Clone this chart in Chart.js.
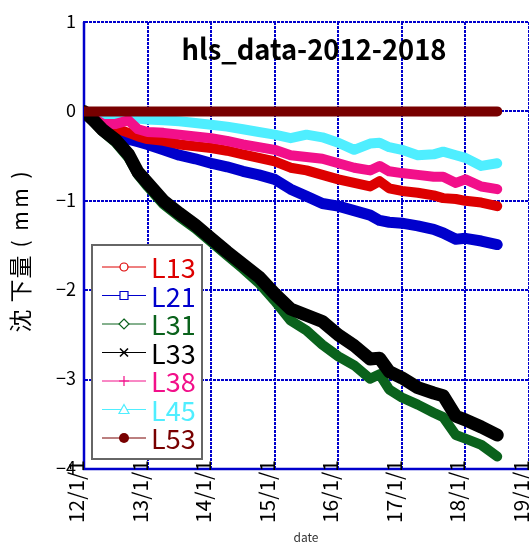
<!DOCTYPE html>
<html>
<head>
<meta charset="utf-8">
<script src="https://cdn.jsdelivr.net/npm/chart.js@4/dist/chart.umd.min.js"></script>
<style>
  body { margin: 0; background: #fff; }
</style>
</head>
<body>
<canvas id="myChart" width="529" height="543"></canvas>
<script>
// decimal years of the sampled readings
const dates = [2012.0, 2012.15, 2012.3, 2012.5, 2012.7, 2012.85, 2013.0, 2013.25, 2013.5, 2013.75,
  2014.0, 2014.25, 2014.5, 2014.75, 2015.0, 2015.25, 2015.5, 2015.75, 2016.0, 2016.25,
  2016.5, 2016.65, 2016.8, 2017.0, 2017.25, 2017.5, 2017.65, 2017.85, 2018.0, 2018.25, 2018.5];

const l13 = [0, -0.07, -0.13, -0.19, -0.24, -0.28, -0.31, -0.33, -0.37, -0.39,
  -0.41, -0.44, -0.48, -0.52, -0.56, -0.63, -0.66, -0.71, -0.76, -0.80,
  -0.84, -0.78, -0.86, -0.89, -0.91, -0.94, -0.97, -0.98, -1.00, -1.02, -1.06];
const l21 = [0, -0.11, -0.20, -0.25, -0.31, -0.34, -0.37, -0.43, -0.49, -0.53,
  -0.58, -0.62, -0.67, -0.71, -0.76, -0.87, -0.95, -1.03, -1.06, -1.11,
  -1.16, -1.22, -1.24, -1.25, -1.28, -1.32, -1.36, -1.43, -1.42, -1.45, -1.49];
const l31 = [0, -0.12, -0.23, -0.35, -0.52, -0.71, -0.84, -1.04, -1.18, -1.31,
  -1.46, -1.61, -1.76, -1.92, -2.12, -2.34, -2.45, -2.61, -2.74, -2.84,
  -2.99, -2.94, -3.11, -3.20, -3.28, -3.37, -3.42, -3.62, -3.66, -3.73, -3.86];
const l33 = [0, -0.10, -0.21, -0.32, -0.48, -0.68, -0.80, -1.00, -1.14, -1.27,
  -1.42, -1.57, -1.71, -1.85, -2.04, -2.21, -2.28, -2.35, -2.50, -2.62,
  -2.77, -2.76, -2.91, -2.98, -3.09, -3.15, -3.18, -3.41, -3.45, -3.53, -3.62];
const l38 = [0, -0.08, -0.14, -0.14, -0.10, -0.20, -0.23, -0.24, -0.26, -0.28,
  -0.30, -0.33, -0.37, -0.40, -0.43, -0.49, -0.51, -0.53, -0.58, -0.63,
  -0.66, -0.61, -0.67, -0.69, -0.71, -0.73, -0.73, -0.80, -0.76, -0.84, -0.87];
const l45 = [0, -0.03, -0.05, -0.07, -0.06, -0.08, -0.09, -0.10, -0.11, -0.13,
  -0.15, -0.17, -0.20, -0.23, -0.26, -0.30, -0.26, -0.29, -0.35, -0.43,
  -0.36, -0.35, -0.40, -0.43, -0.49, -0.48, -0.45, -0.49, -0.52, -0.61, -0.58];
const l53 = [0, 0, 0, 0, 0, 0, 0, 0, 0, 0,
  0, 0, 0, 0, 0, 0, 0, 0, 0, 0,
  0, 0, 0, 0, 0, 0, 0, 0, 0, 0, 0];

const seriesNames = ['L13', 'L21', 'L31', 'L33', 'L38', 'L45', 'L53'];
const seriesValues = [l13, l21, l31, l33, l38, l45, l53];
const seriesColors = ['#dd0000', '#0000cc', '#0a621c', '#000000', '#f2108a', '#4feeff', '#780000'];
const seriesMarkers = ['circle', 'rect', 'rectRot', 'crossRot', 'cross', 'triangle', 'dot'];
const lineWidths = [10, 11, 10, 13, 10, 10, 10];
const drawOrder = [6, 7, 3, 2, 4, 5, 1];

const yTicks = [1, 0, -1, -2, -3, -4];
const yTickLabels = ['1', '0', '\u22121', '\u22122', '\u22123', '\u22124'];
const xTicks = [2012, 2013, 2014, 2015, 2016, 2017, 2018, 2019];
const xTickLabels = ['12/1/1', '13/1/1', '14/1/1', '15/1/1', '16/1/1', '17/1/1', '18/1/1', '19/1/1'];

const yTitleChars = ['沈', '下', '量', '(', 'm', 'm', ')'];

const FONT = '"Noto Sans CJK JP", "Noto Sans", sans-serif';

const datasets = seriesNames.map((name, i) => ({
  label: name,
  data: dates.map((d, j) => ({ x: d, y: seriesValues[i][j] })),
  borderColor: seriesColors[i],
  backgroundColor: seriesColors[i],
  borderWidth: lineWidths[i],
  borderCapStyle: 'round',
  borderJoinStyle: 'round',
  pointRadius: 0,
  fill: false,
  tension: 0,
  order: drawOrder[i]
}));

function drawMarker(ctx, type, x, y, color) {
  ctx.save();
  ctx.strokeStyle = color;
  ctx.fillStyle = color;
  ctx.lineWidth = 1.2;
  ctx.beginPath();
  if (type === 'circle') {
    ctx.arc(x, y, 4, 0, Math.PI * 2);
    ctx.fillStyle = '#fff'; ctx.fill(); ctx.stroke();
  } else if (type === 'rect') {
    ctx.rect(x - 4, y - 4, 8, 8);
    ctx.fillStyle = '#fff'; ctx.fill(); ctx.stroke();
  } else if (type === 'rectRot') {
    ctx.moveTo(x, y - 5); ctx.lineTo(x + 5, y); ctx.lineTo(x, y + 5); ctx.lineTo(x - 5, y); ctx.closePath();
    ctx.fillStyle = '#fff'; ctx.fill(); ctx.stroke();
  } else if (type === 'crossRot') {
    ctx.moveTo(x - 4, y - 4); ctx.lineTo(x + 4, y + 4);
    ctx.moveTo(x + 4, y - 4); ctx.lineTo(x - 4, y + 4);
    ctx.lineWidth = 1.6; ctx.stroke();
  } else if (type === 'cross') {
    ctx.moveTo(x - 5, y); ctx.lineTo(x + 5, y);
    ctx.moveTo(x, y - 5); ctx.lineTo(x, y + 5);
    ctx.stroke();
  } else if (type === 'triangle') {
    ctx.moveTo(x, y - 5); ctx.lineTo(x + 5, y + 4); ctx.lineTo(x - 5, y + 4); ctx.closePath();
    ctx.fillStyle = '#fff'; ctx.fill(); ctx.stroke();
  } else if (type === 'dot') {
    ctx.arc(x, y, 5, 0, Math.PI * 2);
    ctx.fill();
  }
  ctx.restore();
}

// solid left and bottom axis lines under the data
const axisPlugin = {
  id: 'axisPlugin',
  beforeDatasetsDraw(chart) {
    const ctx = chart.ctx;
    const a = chart.chartArea;
    ctx.save();
    ctx.strokeStyle = '#0000cc';
    ctx.lineWidth = 2.5;
    ctx.beginPath();
    ctx.moveTo(a.left, a.top);
    ctx.lineTo(a.left, a.bottom);
    ctx.lineTo(a.right, a.bottom);
    ctx.stroke();
    ctx.restore();
  }
};

const textPlugin = {
  id: 'textPlugin',
  afterDraw(chart) {
    const ctx = chart.ctx;
    const xs = chart.scales.x;
    const ys = chart.scales.y;
    const area = chart.chartArea;
    ctx.save();

    // y tick labels
    ctx.fillStyle = '#000';
    ctx.font = '18px ' + FONT;
    ctx.textAlign = 'right';
    ctx.textBaseline = 'middle';
    yTicks.forEach((v, i) => ctx.fillText(yTickLabels[i], area.left - 8, ys.getPixelForValue(v) - 1));

    // x tick labels, rotated
    ctx.font = '21px ' + FONT;
    xTicks.forEach((v, i) => {
      ctx.save();
      ctx.translate(xs.getPixelForValue(v) - 8, area.bottom - 9);
      ctx.rotate(-Math.PI / 2);
      ctx.textAlign = 'right';
      ctx.textBaseline = 'middle';
      ctx.fillText(xTickLabels[i], 0, 0);
      ctx.restore();
    });

    // y axis title, spaced characters
    ctx.textAlign = 'center';
    ctx.textBaseline = 'middle';
    const yPos = [321, 291, 267, 244, 221, 198, 175];
    const ySize = [23, 23, 23, 21, 21, 21, 21];
    yTitleChars.forEach((c, i) => {
      ctx.save();
      ctx.font = ySize[i] + 'px ' + FONT;
      ctx.translate(20, yPos[i]);
      ctx.rotate(-Math.PI / 2);
      ctx.fillText(c, 0, 0);
      ctx.restore();
    });

    ctx.font = '12px ' + FONT;
    ctx.fillStyle = '#333';
    ctx.textAlign = 'center';
    ctx.fillText('date', 306, 537);

    // chart title
    ctx.fillStyle = '#000';
    ctx.font = 'bold 29px ' + FONT;
    ctx.textBaseline = 'alphabetic';
    const title = 'hls_data-2012-2018';
    const w = ctx.measureText(title).width;
    ctx.save();
    ctx.translate(314, 60);
    ctx.scale(Math.min(1, 265 / w), 1);
    ctx.fillText(title, 0, 0);
    ctx.restore();

    // legend box
    const bx = 92, by = 245, bw = 110, bh = 214;
    ctx.fillStyle = '#fff';
    ctx.fillRect(bx, by, bw, bh);
    ctx.strokeStyle = '#666';
    ctx.lineWidth = 2;
    ctx.strokeRect(bx, by, bw, bh);
    ctx.font = '27px ' + FONT;
    ctx.textAlign = 'left';
    ctx.textBaseline = 'middle';
    seriesNames.forEach((name, i) => {
      const y = 267 + i * 28.5;
      ctx.strokeStyle = seriesColors[i];
      ctx.lineWidth = 1;
      ctx.beginPath();
      ctx.moveTo(102, y);
      ctx.lineTo(146, y);
      ctx.stroke();
      drawMarker(ctx, seriesMarkers[i], 124, y, seriesColors[i]);
      ctx.fillStyle = seriesColors[i];
      ctx.fillText(name, 151, y + 1);
    });

    ctx.restore();
  }
};

const ctx = document.getElementById('myChart');
const myChart = new Chart(ctx, {
  type: 'line',
  data: { datasets: datasets },
  options: {
    responsive: false,
    animation: false,
    devicePixelRatio: 1,
    layout: { padding: { left: 84, top: 22, right: 0, bottom: 74 } },
    plugins: {
      legend: { display: false },
      tooltip: { enabled: false }
    },
    scales: {
      x: {
        type: 'linear',
        min: 2012,
        max: 2019,
        afterFit: s => { s.height = 0; },
        ticks: { stepSize: 1, display: false },
        grid: { color: '#0000cc', lineWidth: 2, drawTicks: false },
        border: { display: true, color: '#0000cc', width: 2, dash: [3, 1] }
      },
      y: {
        min: -4,
        max: 1,
        afterFit: s => { s.width = 0; },
        ticks: { stepSize: 1, display: false },
        grid: { color: '#0000cc', lineWidth: 2, drawTicks: false },
        border: { display: true, color: '#0000cc', width: 2, dash: [3, 1] }
      }
    }
  },
  plugins: [axisPlugin, textPlugin]
});
</script>
</body>
</html>
